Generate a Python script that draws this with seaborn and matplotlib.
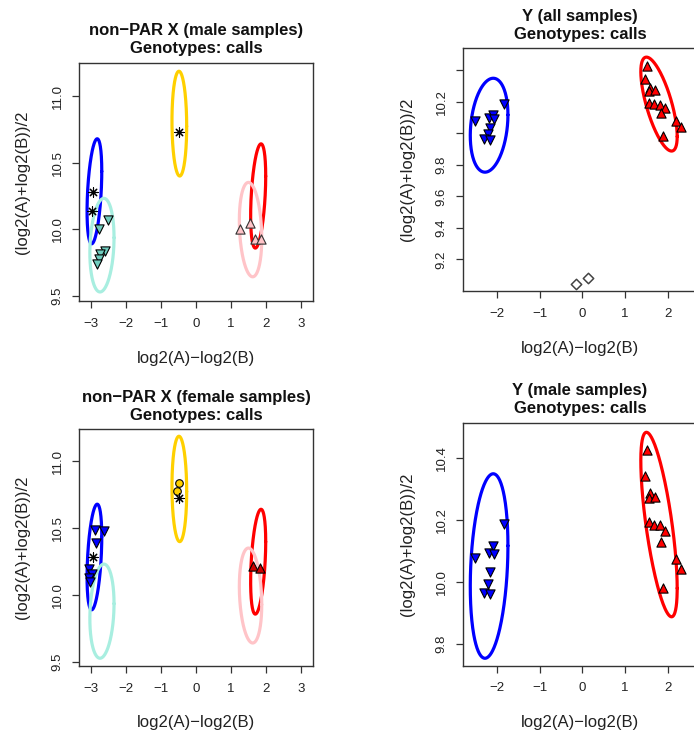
import numpy as np
import pandas as pd
import matplotlib
matplotlib.use("Agg")
import matplotlib.pyplot as plt
import seaborn as sns

# ---------------- data ----------------
# non-PAR X, male samples
xm_star_x = [-2.95, -2.96, -0.486]
xm_star_y = [10.281, 10.140, 10.729]
xm_down_x = [-2.51, -2.76, -2.59, -2.74, -2.77, -2.84]
xm_down_y = [10.068, 9.998, 9.835, 9.817, 9.777, 9.742]
xm_up_x = [1.25, 1.54, 1.69, 1.85]
xm_up_y = [9.998, 10.048, 9.928, 9.923]

# non-PAR X, female samples
xf_down_x = [-2.87, -2.63, -2.86, -3.05, -2.96, -3.05, -3.03]
xf_down_y = [10.488, 10.478, 10.392, 10.192, 10.160, 10.130, 10.100]
xf_star_x = [-2.93, -0.486]
xf_star_y = [10.283, 10.727]
xf_circ_x = [-0.495, -0.55]
xf_circ_y = [10.840, 10.777]
xf_up_x = [1.64, 1.83]
xf_up_y = [10.216, 10.204]

# Y chromosome
y_blue_x = [-2.50, -1.83, -2.19, -2.08, -2.06, -2.17, -2.21, -2.31, -2.15]
y_blue_y = [10.077, 10.189, 10.095, 10.116, 10.092, 10.032, 9.995, 9.966, 9.961]
y_red_x = [1.50, 1.47, 1.58, 1.55, 1.70, 1.55, 1.68, 1.82, 1.92, 1.83, 2.19, 2.31, 1.88]
y_red_y = [10.426, 10.343, 10.289, 10.272, 10.275, 10.194, 10.184, 10.183,
           10.164, 10.128, 10.076, 10.042, 9.981]
y_diam_x = [-0.16, 0.12]
y_diam_y = [9.047, 9.085]

# ellipses (center, half-width, half-height, tilt correlation)
xe_name = ["blue", "turq", "gold", "red", "pink"]
xe_cx = [-2.90, -2.685, -0.476, 1.775, 1.557]
xe_cy = [10.285, 9.880, 10.794, 10.250, 9.997]
xe_sx = [0.21, 0.345, 0.21, 0.215, 0.32]
xe_sy = [0.395, 0.352, 0.394, 0.392, 0.355]
xe_rho = [0.38, 0.16, -0.05, 0.38, -0.19]
xe_col = ["#0000FF", "#A8EEE0", "#FFD000", "#FF0000", "#FFC4C8"]

ye_cx = [-2.18, 1.79]
ye_cy = [10.052, 10.186]
ye_sx = [0.44, 0.425]
ye_sy = [0.298, 0.298]
ye_rho = [0.22, -0.69]
ye_col = ["#0000FF", "#FF0000"]

titles = ["non\u2212PAR X (male samples)", "Y (all samples)",
          "non\u2212PAR X (female samples)", "Y (male samples)"]
subtitle = "Genotypes: calls"
xlab = "log2(A)\u2212log2(B)"
ylab = "(log2(A)+log2(B))/2"

# ---------------- style ----------------
sns.set_theme(style="white")
plt.rcParams['font.family'] = ['Liberation Sans', 'DejaVu Sans']
plt.rcParams['axes.unicode_minus'] = True

W, H = 694, 736
fig = plt.figure(figsize=(W / 100, H / 100), dpi=100)


def add_ax(left, top, w, h):
    return fig.add_axes([left / W, 1 - (top + h) / H, w / W, h / H])


def style_ax(ax, xlim, ylim, xticks, yticks, yticklabels):
    ax.set_xlim(*xlim)
    ax.set_ylim(*ylim)
    ax.set_xticks(xticks)
    ax.set_xticklabels([f"{t:g}".replace("-", "\u2212") for t in xticks])
    ax.set_yticks(yticks)
    ax.set_yticklabels(yticklabels)
    for s in ax.spines.values():
        s.set_color("#333333")
        s.set_linewidth(1.0)
    ax.tick_params(axis='both', direction='out', length=5, width=0.9,
                   color="#333333", labelcolor="#222222", labelsize=9.5,
                   bottom=True, left=True, pad=7)
    ax.tick_params(axis='y', labelrotation=90, pad=6)
    for lab in ax.get_yticklabels():
        lab.set_va('center')
    ax.set_xlabel("")
    ax.set_ylabel("")


def draw_ellipses(ax, cx, cy, sx, sy, rho, cols):
    t = np.linspace(0, 2 * np.pi, 300)
    for i in range(len(cx)):
        ex = cx[i] + sx[i] * np.cos(t)
        ey = cy[i] + sy[i] * (rho[i] * np.cos(t) + np.sqrt(1 - rho[i] ** 2) * np.sin(t))
        ax.plot(ex, ey, color=cols[i], lw=2.3, zorder=2, solid_capstyle='round')


def pts(ax, x, y, marker, face, edge="black", s=44, lw=0.8):
    df = pd.DataFrame({"x": x, "y": y})
    sns.scatterplot(data=df, x="x", y="y", ax=ax, marker=marker, s=s,
                    color=face, edgecolor=edge, linewidth=lw, zorder=3, legend=False)


def stars(ax, x, y):
    df = pd.DataFrame({"x": x, "y": y})
    sns.scatterplot(data=df, x="x", y="y", ax=ax, marker=(8, 2, 0), s=45,
                    color="black", edgecolor="black", linewidth=0.8, zorder=4, legend=False)


# panel geometry in pixels (left, top, width, height)
geo = [(79, 63, 234, 238), (463, 48.3, 238.8, 242.7),
       (79, 429.3, 234, 236.7), (463, 422.7, 238.8, 243)]
axes = [add_ax(*g) for g in geo]

xt_left = [-3, -2, -1, 0, 1, 2, 3]
xt_right = [-2, -1, 0, 1, 2]

# top-left: non-PAR X male
ax = axes[0]
draw_ellipses(ax, xe_cx, xe_cy, xe_sx, xe_sy, xe_rho, xe_col)
pts(ax, xm_down_x, xm_down_y, "v", "#70CDBF")
pts(ax, xm_up_x, xm_up_y, "^", "#FFC4C8", edge="#333333")
stars(ax, xm_star_x, xm_star_y)
style_ax(ax, (-3.34, 3.34), (9.46, 11.25), xt_left, [9.5, 10.0, 10.5, 11.0],
         ["9.5", "10.0", "10.5", "11.0"])

# bottom-left: non-PAR X female
ax = axes[2]
draw_ellipses(ax, xe_cx, xe_cy, xe_sx, xe_sy, xe_rho, xe_col)
pts(ax, xf_down_x, xf_down_y, "v", "#0000FF")
pts(ax, xf_circ_x, xf_circ_y, "o", "#FFD000", s=30)
pts(ax, xf_up_x, xf_up_y, "^", "#CC0000")
stars(ax, xf_star_x, xf_star_y)
style_ax(ax, (-3.34, 3.34), (9.47, 11.24), xt_left, [9.5, 10.0, 10.5, 11.0],
         ["9.5", "10.0", "10.5", "11.0"])

# top-right: Y all samples
ax = axes[1]
draw_ellipses(ax, ye_cx, ye_cy, ye_sx, ye_sy, ye_rho, ye_col)
pts(ax, y_blue_x, y_blue_y, "v", "#0000FF")
pts(ax, y_red_x, y_red_y, "^", "#FF0000")
pts(ax, y_diam_x, y_diam_y, "D", "white", edge="#444444", s=28, lw=1.1)
style_ax(ax, (-2.79, 2.79), (9.0, 10.54), xt_right,
         [9.2, 9.4, 9.6, 9.8, 10.0, 10.2, 10.4],
         ["9.2", "9.4", "9.6", "9.8", "", "10.2", ""])

# bottom-right: Y male samples
ax = axes[3]
draw_ellipses(ax, ye_cx, ye_cy, ye_sx, ye_sy, ye_rho, ye_col)
pts(ax, y_blue_x, y_blue_y, "v", "#0000FF")
pts(ax, y_red_x, y_red_y, "^", "#FF0000")
style_ax(ax, (-2.79, 2.79), (9.73, 10.515), xt_right,
         [9.8, 10.0, 10.2, 10.4], ["9.8", "10.0", "10.2", "10.4"])

# titles and axis labels
for (l, t, w, h), ttl in zip(geo, titles):
    cx = l + 117
    fig.text(cx / W, 1 - (t - 32) / H, ttl, ha='center', va='center',
             fontsize=12, fontweight='bold', color="#111111")
    fig.text(cx / W, 1 - (t - 14) / H, subtitle, ha='center', va='center',
             fontsize=12, fontweight='bold', color="#111111")
    fig.text(cx / W, 1 - (t + h + 57) / H, xlab, ha='center', va='center',
             fontsize=12, color="#222222")
    fig.text((l - 56) / W, 1 - (t + h / 2) / H, ylab, ha='center', va='center',
             rotation=90, fontsize=12, color="#222222")

fig.savefig("out.png", dpi=100)
